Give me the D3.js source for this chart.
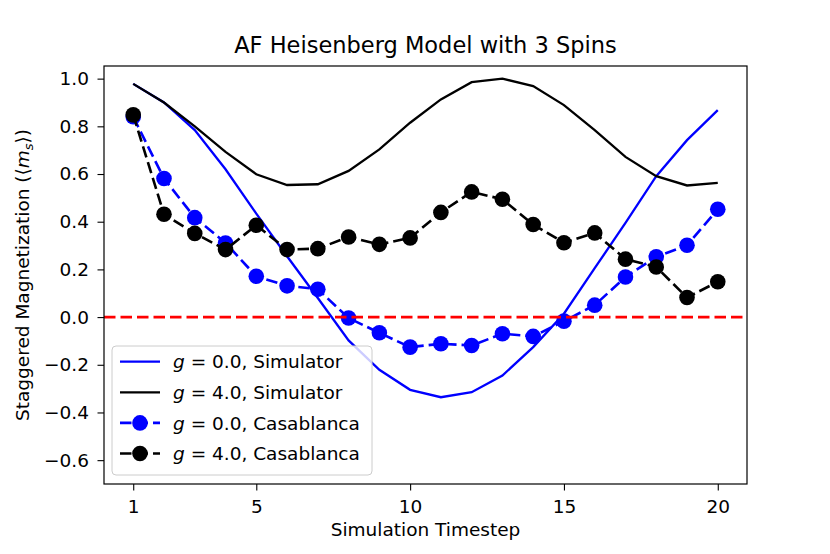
<!DOCTYPE html>
<html>
<head>
<meta charset="utf-8">
<script src="https://cdn.jsdelivr.net/npm/d3@7"></script>
<style>
  body { margin: 0; background: #fff; }
  svg { display: block; font-family: "DejaVu Sans", sans-serif; }
</style>
</head>
<body>
<div id="chart"></div>
<script>
// timesteps 1..20
const steps = d3.range(1, 21);

const simG0 = [0.978, 0.90, 0.784, 0.62, 0.434, 0.255, 0.08, -0.098, -0.221, -0.305,
               -0.336, -0.315, -0.245, -0.126, 0.014, 0.205, 0.395, 0.591, 0.742, 0.868];
const simG4 = [0.978, 0.90, 0.80, 0.693, 0.599, 0.554, 0.557, 0.613, 0.703, 0.815,
               0.913, 0.985, 1.0, 0.969, 0.889, 0.784, 0.672, 0.591, 0.552, 0.563];
const casaG0 = [0.84, 0.581, 0.417, 0.311, 0.171, 0.131, 0.117, -0.004, -0.066, -0.126,
                -0.112, -0.119, -0.07, -0.081, -0.017, 0.05, 0.168, 0.253, 0.301, 0.452];
const casaG4 = [0.848, 0.431, 0.351, 0.283, 0.385, 0.283, 0.287, 0.336, 0.305, 0.332,
                0.439, 0.525, 0.494, 0.388, 0.312, 0.353, 0.243, 0.21, 0.082, 0.148];

const xTicks = [1, 5, 10, 15, 20];
const yTicks = [-0.6, -0.4, -0.2, 0.0, 0.2, 0.4, 0.6, 0.8, 1.0];

const W = 830, H = 554;
const box = { left: 104, right: 747, top: 66, bottom: 484 };
const fs = 18.5;

const svg = d3.select("#chart").append("svg")
  .attr("width", W).attr("height", H);

const x = d3.scaleLinear().domain([0.05, 20.95]).range([box.left, box.right]);
const y = d3.scaleLinear().domain([-0.7, 1.053]).range([box.bottom, box.top]);

svg.append("clipPath").attr("id", "plot-clip")
  .append("rect")
  .attr("x", box.left).attr("y", box.top)
  .attr("width", box.right - box.left).attr("height", box.bottom - box.top);

const plot = svg.append("g").attr("clip-path", "url(#plot-clip)");

const line = d3.line().x((d, i) => x(steps[i])).y(d => y(d));

// simulator curves
plot.append("path").datum(simG0)
  .attr("d", line).attr("fill", "none")
  .attr("stroke", "#0000ff").attr("stroke-width", 2.3);
plot.append("path").datum(simG4)
  .attr("d", line).attr("fill", "none")
  .attr("stroke", "#000000").attr("stroke-width", 2.3);

// hardware runs
function casa(values, color) {
  plot.append("path").datum(values)
    .attr("d", line).attr("fill", "none")
    .attr("stroke", color).attr("stroke-width", 2.6)
    .attr("stroke-dasharray", "11.5,5");
  plot.selectAll(null).data(values).enter()
    .append("circle")
    .attr("cx", (d, i) => x(steps[i]))
    .attr("cy", d => y(d))
    .attr("r", 7.8)
    .attr("fill", color);
}
casa(casaG0, "#0000ff");
casa(casaG4, "#000000");

// zero line
plot.append("line")
  .attr("x1", box.left).attr("x2", box.right)
  .attr("y1", y(0)).attr("y2", y(0))
  .attr("stroke", "#ff0000").attr("stroke-width", 2.6)
  .attr("stroke-dasharray", "11.5,5");

// axes
const xAxis = svg.append("g")
  .attr("transform", `translate(0,${box.bottom})`)
  .call(d3.axisBottom(x).tickValues(xTicks).tickSize(6.5).tickPadding(9.5).tickFormat(d3.format("d")));
const yAxis = svg.append("g")
  .attr("transform", `translate(${box.left},0)`)
  .call(d3.axisLeft(y).tickValues(yTicks).tickSize(6.5).tickPadding(8.5)
    .tickFormat(d => d3.format(".1f")(d).replace("-", "\u2212")));

[xAxis, yAxis].forEach(a => {
  a.select(".domain").remove();
  a.selectAll(".tick line").attr("stroke", "#000").attr("stroke-width", 1.1);
  a.selectAll(".tick text")
    .attr("fill", "#000")
    .attr("font-size", fs + "px")
    .attr("font-family", "DejaVu Sans, sans-serif");
});

// frame
svg.append("rect")
  .attr("x", box.left).attr("y", box.top)
  .attr("width", box.right - box.left).attr("height", box.bottom - box.top)
  .attr("fill", "none").attr("stroke", "#000").attr("stroke-width", 1.2);

// title
svg.append("text")
  .attr("x", (box.left + box.right) / 2).attr("y", 52.5)
  .attr("text-anchor", "middle")
  .attr("font-size", "22.5px")
  .text("AF Heisenberg Model with 3 Spins");

// x label
svg.append("text")
  .attr("x", (box.left + box.right) / 2).attr("y", 536)
  .attr("text-anchor", "middle")
  .attr("font-size", fs + "px")
  .text("Simulation Timestep");

// y label
const yl = svg.append("text")
  .attr("transform", `translate(29,${(box.top + box.bottom) / 2}) rotate(-90)`)
  .attr("text-anchor", "middle")
  .attr("font-size", fs + "px");
yl.append("tspan").text("Staggered Magnetization (\u27E8");
yl.append("tspan").attr("font-style", "italic").text("m");
yl.append("tspan").attr("font-style", "italic").attr("font-size", "13px").attr("dy", 3.5).text("s");
yl.append("tspan").attr("dy", -3.5).text("\u27E9)");

// legend
const legendItems = [
  { g: "0.0", name: "Simulator", color: "#0000ff", marker: false },
  { g: "4.0", name: "Simulator", color: "#000000", marker: false },
  { g: "0.0", name: "Casablanca", color: "#0000ff", marker: true },
  { g: "4.0", name: "Casablanca", color: "#000000", marker: true }
];

const legend = svg.append("g");
legend.append("rect")
  .attr("x", 112).attr("y", 346)
  .attr("width", 260).attr("height", 129)
  .attr("rx", 4)
  .attr("fill", "#ffffff").attr("fill-opacity", 0.8)
  .attr("stroke", "#cccccc").attr("stroke-width", 1);

const rows = legend.selectAll(".row").data(legendItems).enter()
  .append("g")
  .attr("class", "row")
  .attr("transform", (d, i) => `translate(0,${361.7 + i * 30.6})`);

rows.append("line")
  .attr("x1", 120).attr("x2", 160)
  .attr("stroke", d => d.color)
  .attr("stroke-width", d => d.marker ? 2.6 : 2.3)
  .attr("stroke-dasharray", d => d.marker ? "11.5,5" : null);

rows.filter(d => d.marker).append("circle")
  .attr("cx", 140).attr("r", 7.8)
  .attr("fill", d => d.color);

const lt = rows.append("text")
  .attr("x", 173).attr("y", 6.7)
  .attr("font-size", fs + "px");
lt.append("tspan").attr("font-style", "italic").text("g");
lt.append("tspan").text(d => ` = ${d.g}, ${d.name}`);
</script>
</body>
</html>
